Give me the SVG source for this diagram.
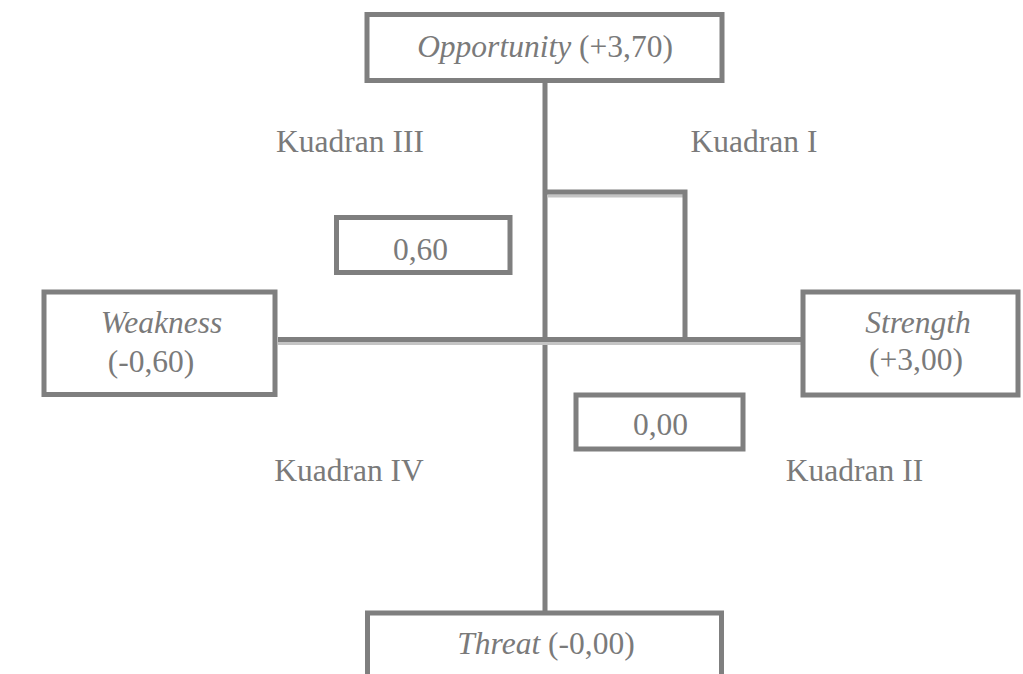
<svg xmlns="http://www.w3.org/2000/svg" width="1023" height="674" viewBox="0 0 1023 674">
<style>
.box{fill:#ffffff;stroke:#7f7f7f;stroke-width:5}
.ax{fill:none;stroke:#7f7f7f;stroke-width:5}
.sh{fill:none;stroke:#c4c4c4;stroke-width:3}
text{font-family:'Liberation Serif','Times New Roman',Times,'DejaVu Serif',serif;font-size:31.5px;fill:#7a7a7a}
.c{text-anchor:middle}
.i{font-style:italic}
</style>
<rect width="1023" height="674" fill="#ffffff"/>
<g id="connectors">
<line class="ax" x1="545" y1="80" x2="545" y2="613"/>
<line class="sh" x1="278" y1="343.5" x2="802" y2="343.5"/>
<line class="ax" x1="278" y1="339.5" x2="802" y2="339.5"/>
<line class="sh" x1="547" y1="196" x2="683" y2="196"/>
<polyline class="ax" points="545,192 685,192 685,339.5"/>
</g>
<g font-family="Liberation Serif, serif">
<g id="opportunity">
<rect class="box" x="367" y="14.5" width="355" height="66"/>
<text class="c" x="545" y="57"><tspan class="i">Opportunity</tspan> (+3,70)</text>
</g>
<g id="weakness">
<rect class="box" x="44" y="292" width="231" height="102.5"/>
<text class="c i" x="161.5" y="333">Weakness</text>
<text class="c" x="151" y="372">(-0,60)</text>
</g>
<g id="strength">
<rect class="box" x="803" y="292" width="215" height="103"/>
<text class="c i" x="918" y="333">Strength</text>
<text class="c" x="916" y="370">(+3,00)</text>
</g>
<g id="threat">
<rect class="box" x="367.5" y="613" width="354" height="80"/>
<text class="c" x="546" y="654"><tspan class="i">Threat</tspan> (-0,00)</text>
</g>
<g id="value-060">
<rect class="box" x="336.5" y="217.5" width="173.5" height="55"/>
<text class="c" x="420.5" y="260">0,60</text>
</g>
<g id="value-000">
<rect class="box" x="576" y="395" width="167" height="54"/>
<text class="c" x="660.5" y="435">0,00</text>
</g>
<g id="labels">
<text class="c" x="350" y="152">Kuadran III</text>
<text class="c" x="754" y="152">Kuadran I</text>
<text class="c" x="349" y="481">Kuadran IV</text>
<text class="c" x="854.5" y="481">Kuadran II</text>
</g>
</g>
</svg>
